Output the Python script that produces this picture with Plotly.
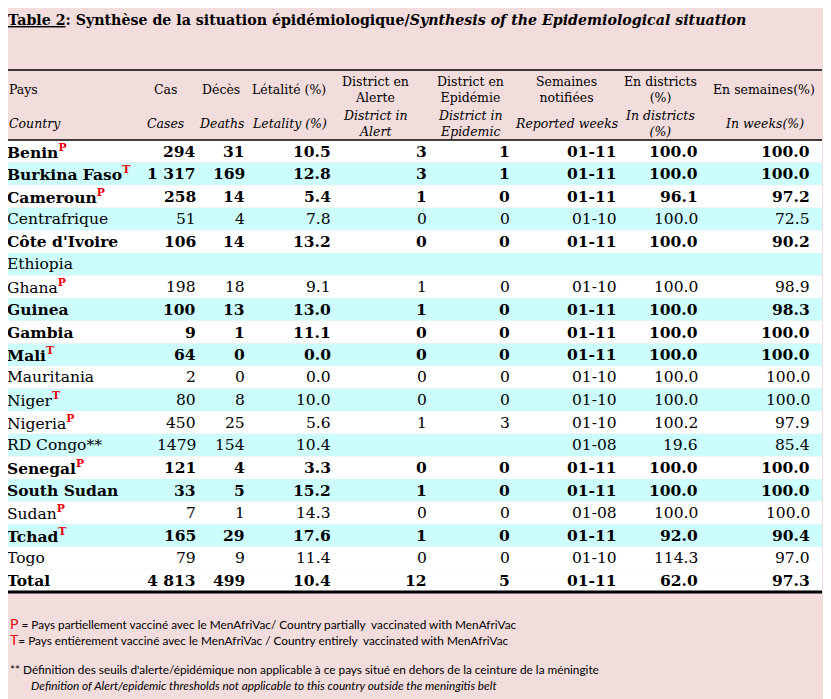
import plotly.graph_objects as go

# table data
countries = ['Benin', 'Burkina Faso', 'Cameroun', 'Centrafrique', "Côte d'Ivoire",
             'Ethiopia', 'Ghana', 'Guinea', 'Gambia', 'Mali', 'Mauritania', 'Niger',
             'Nigeria', 'RD Congo**', 'Senegal', 'South Sudan', 'Sudan', 'Tchad',
             'Togo', 'Total']
vaccine = ['P', 'T', 'P', '', '', '', 'P', '', '', 'T', '', 'T', 'P', '', 'P', '',
           'P', 'T', '', '']
bold_rows = [True, True, True, False, True, False, False, True, True, True, False,
             False, False, False, True, True, False, True, False, True]
cases = ['294', '1 317', '258', '51', '106', '', '198', '100', '9', '64', '2', '80',
         '450', '1479', '121', '33', '7', '165', '79', '4 813']
deaths = [31, 169, 14, 4, 14, None, 18, 13, 1, 0, 0, 8, 25, 154, 4, 5, 1, 29, 9, 499]
letality = [10.5, 12.8, 5.4, 7.8, 13.2, None, 9.1, 13.0, 11.1, 0.0, 0.0, 10.0, 5.6,
            10.4, 3.3, 15.2, 14.3, 17.6, 11.4, 10.4]
alert = [3, 3, 1, 0, 0, None, 1, 1, 0, 0, 0, 0, 1, None, 0, 1, 0, 1, 0, 12]
epidemic = [1, 1, 0, 0, 0, None, 0, 0, 0, 0, 0, 0, 3, None, 0, 0, 0, 0, 0, 5]
weeks = ['01-11', '01-11', '01-11', '01-10', '01-11', '', '01-10', '01-11', '01-11',
         '01-11', '01-10', '01-10', '01-10', '01-08', '01-11', '01-11', '01-08',
         '01-11', '01-10', '01-11']
pct_districts = [100.0, 100.0, 96.1, 100.0, 100.0, None, 100.0, 100.0, 100.0, 100.0,
                 100.0, 100.0, 100.2, 19.6, 100.0, 100.0, 100.0, 92.0, 114.3, 62.0]
pct_weeks = [100.0, 100.0, 97.2, 72.5, 90.2, None, 98.9, 98.3, 100.0, 100.0, 100.0,
             100.0, 97.9, 85.4, 100.0, 100.0, 100.0, 90.4, 97.0, 97.3]

headers_fr = ['Pays', 'Cas', 'Décès', 'Létalité (%)', 'District en<br>Alerte',
              'District en<br>Epidémie', 'Semaines<br>notifiées',
              'En districts<br>(%)', 'En semaines(%)']
headers_en = ['Country', 'Cases', 'Deaths', 'Letality (%)', 'District in<br>Alert',
              'District in<br>Epidemic', 'Reported weeks', 'In districts<br>(%)',
              'In weeks(%)']

title_fr = 'Synthèse de la situation épidémiologique/'
title_en = 'Synthesis of the Epidemiological situation'
notes = ['= Pays partiellement vacciné avec le MenAfriVac/ Country partially  vaccinated with MenAfriVac',
         '= Pays entièrement vacciné avec le MenAfriVac / Country entirely  vaccinated with MenAfriVac',
         "** Définition des seuils d'alerte/épidémique non applicable à ce pays situé en dehors de la ceinture de la méningite",
         'Definition of Alert/epidemic thresholds not applicable to this country outside the meningitis belt']

# layout (page has an 8px body margin, so the axes start at 8)
W, H, OFF = 831, 699, 8
LEFT, RIGHT = 7, 822
HEAD_TOP, BODY_TOP, ROW_H = 70, 140, 22.6
SERIF = 'DejaVu Serif'
RED = '#e8000b'
BG = '#f2dcdc'
CYAN = '#cdfcfc'

val_x = [9, 198, 247, 333, 429, 512, 619, 700, 812]
head_x = [9, 165, 221, 289, 375, 470, 566, 660, 764]


def fmt(v, dec=0):
    if v is None or v == '':
        return ''
    if isinstance(v, str):
        return v
    return f'{v:.{dec}f}'


fig = go.Figure()
shapes = []
annotations = []

# row fills (the total row stays white)
for i in range(len(countries)):
    y0 = BODY_TOP + i * ROW_H
    striped = i % 2 == 1 and countries[i] != 'Total'
    shapes.append(dict(type='rect', xref='x', yref='y', x0=LEFT - 1, x1=RIGHT,
                       y0=y0, y1=y0 + ROW_H, line=dict(width=0),
                       fillcolor=CYAN if striped else 'white', layer='below'))

# rules
bottom = BODY_TOP + len(countries) * ROW_H
for y, w in [(HEAD_TOP, 1.5), (BODY_TOP, 1.5), (bottom, 3)]:
    shapes.append(dict(type='line', xref='x', yref='y', x0=LEFT, x1=RIGHT, y0=y, y1=y,
                       line=dict(color='black', width=w)))

# header
for j in range(len(headers_fr)):
    anchor = 'left' if j == 0 else 'center'
    shift = -2 if j == 0 else 0
    annotations.append(dict(x=head_x[j], y=89, text=headers_fr[j], xanchor=anchor, xshift=shift,
                            yanchor='middle', showarrow=False, align='center',
                            font=dict(family=SERIF, size=12.5, color='black')))
    annotations.append(dict(x=head_x[j], y=123, text=f'<i>{headers_en[j]}</i>'.replace('<br>', '</i><br><i>'),
                            xanchor=anchor, xshift=shift, yanchor='middle', showarrow=False,
                            align='center', font=dict(family=SERIF, size=12.5, color='black')))

# body
for i, name in enumerate(countries):
    yc = BODY_TOP + i * ROW_H + ROW_H / 2
    label = name
    if vaccine[i]:
        label += f"<sup><span style='color:{RED}'><b>{vaccine[i]}</b></span></sup>"
    cells = [label, fmt(cases[i]), fmt(deaths[i]), fmt(letality[i], 1), fmt(alert[i]),
             fmt(epidemic[i]), fmt(weeks[i]), fmt(pct_districts[i], 1), fmt(pct_weeks[i], 1)]
    for j, txt in enumerate(cells):
        if txt == '':
            continue
        if bold_rows[i]:
            txt = f'<b>{txt}</b>'
        annotations.append(dict(x=val_x[j], y=yc, text=txt,
                                xanchor='left' if j == 0 else 'right',
                                xshift=-4 if j == 0 else 0, yanchor='middle',
                                showarrow=False,
                                font=dict(family=SERIF, size=15.5, color='black')))

# title
annotations.append(dict(x=9, y=20, xshift=-3, xanchor='left', yanchor='middle', showarrow=False,
                        text=f'<b><u>Table 2</u>: {title_fr}<i>{title_en}</i></b>',
                        font=dict(family=SERIF, size=14.2, color='black')))

# footnotes
NOTE_FONT = dict(family='Lato, sans-serif', size=11.8, color='black')
note_rows = [
    (623, 9, -1, f"<span style='color:{RED};font-size:14px'>P</span> {notes[0]}"),
    (639, 9, -1, f"<span style='color:{RED};font-size:14px'>T</span>{notes[1]}"),
    (669, 9, -1, notes[2]),
    (685, 31, -2, f'<i>{notes[3]}</i>'),
]
for y, x, sh, txt in note_rows:
    annotations.append(dict(x=x, y=y, xshift=sh, xanchor='left', yanchor='middle',
                            showarrow=False, text=txt, font=NOTE_FONT))

fig.update_layout(
    width=W - OFF, height=H - OFF,
    margin=dict(l=0, r=0, t=0, b=0),
    paper_bgcolor=BG, plot_bgcolor=BG,
    xaxis=dict(range=[OFF, W], visible=False, fixedrange=True),
    yaxis=dict(range=[H, OFF], visible=False, fixedrange=True),
    shapes=shapes, annotations=annotations,
    showlegend=False,
)

fig.write_html('out.html')
